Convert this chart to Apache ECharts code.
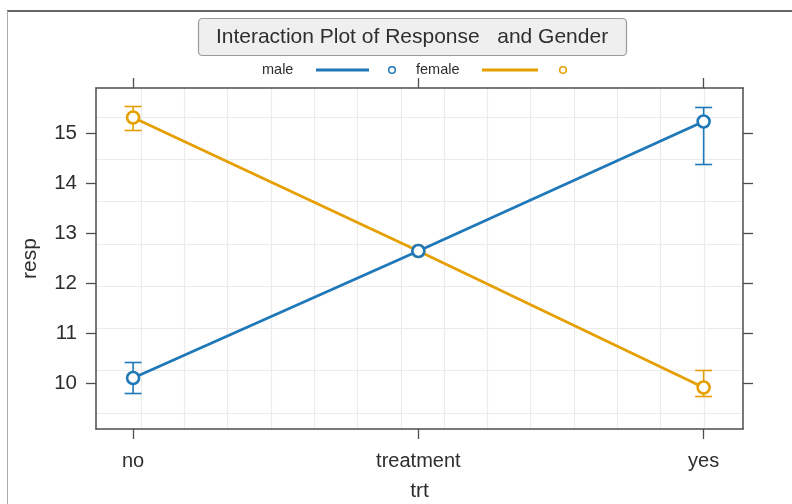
<!DOCTYPE html>
<html>
<head>
<meta charset="utf-8">
<script src="https://cdn.jsdelivr.net/npm/echarts@6/dist/echarts.min.js"></script>
<style>
html,body{margin:0;padding:0;background:#fff;}
#chart{width:792px;height:504px;}
</style>
</head>
<body>
<div id="chart"></div>
<script>
// ---- data ----
const categories = ['no', 'treatment', 'yes'];
const seriesNames = ['male', 'female'];
const maleMean = [10.10, 12.64, 15.23];
const maleLower = [9.79, null, 14.37];
const maleUpper = [10.41, null, 15.51];
const femaleMean = [15.31, 12.64, 9.91];
const femaleLower = [15.05, null, 9.73];
const femaleUpper = [15.53, null, 10.25];
const yTickValues = [10, 11, 12, 13, 14, 15];
// background reference-grid positions (panel grid, not data)
const vGridValues = [1, 2, 3, 4, 5, 6, 7, 8, 9, 10, 11, 12, 13, 14];
const hGridValues = [1, 2, 3, 4, 5, 6, 7, 8];
const titleText = 'Interaction Plot of Response   and Gender';
const xName = 'trt';
const yName = 'resp';

// ---- styling ----
const colors = ['#1f78b8', '#e69f00'];
const FONT = '"Liberation Sans", Arial, Helvetica, sans-serif';
const TXT = '#2e2e2e';
const AX = '#4d4d4d';
const catX = categories.map((c, i) => i + 1);

function errData(lo, hi) {
  const out = [];
  categories.forEach((c, i) => {
    if (lo[i] != null && hi[i] != null) out.push([catX[i], lo[i], hi[i]]);
  });
  return out;
}
function errSeries(name, lo, hi, color) {
  return {
    type: 'custom', name: name + ' err', xAxisIndex: 0, yAxisIndex: 0, z: 3,
    data: errData(lo, hi),
    encode: { x: 0, y: [1, 2] },
    renderItem: function (params, api) {
      const x = api.value(0);
      const a = api.coord([x, api.value(1)]);
      const b = api.coord([x, api.value(2)]);
      const hw = 8.5;
      const st = { stroke: color, lineWidth: 1.6, fill: null };
      return {
        type: 'group',
        children: [
          { type: 'line', shape: { x1: a[0], y1: a[1], x2: b[0], y2: b[1] }, style: st },
          { type: 'line', shape: { x1: a[0] - hw, y1: a[1], x2: a[0] + hw, y2: a[1] }, style: st },
          { type: 'line', shape: { x1: b[0] - hw, y1: b[1], x2: b[0] + hw, y2: b[1] }, style: st }
        ]
      };
    }
  };
}
function lineSeries(name, vals, color, z) {
  return {
    type: 'line', name: name, xAxisIndex: 0, yAxisIndex: 0, z: z,
    data: catX.map((x, i) => [x, vals[i]]),
    symbol: 'circle', symbolSize: 12,
    lineStyle: { color: color, width: 2.8 },
    itemStyle: { color: '#ffffff', borderColor: color, borderWidth: 2.6 },
    emphasis: { disabled: true }
  };
}

const axisLine = { show: true, onZero: false, lineStyle: { color: AX, width: 1.5 } };
const tickStyle = { color: AX, width: 1.3 };

const chart = echarts.init(document.getElementById('chart'), null, { renderer: 'canvas' });
chart.setOption({
  animation: false,
  backgroundColor: '#ffffff',
  grid: { left: 96, top: 88, width: 647, height: 341, show: false, containLabel: false, outerBoundsMode: 'none' },
  xAxis: [
    {
      type: 'value', position: 'bottom', min: 0.870, max: 3.138,
      axisLine: axisLine,
      axisTick: { show: true, inside: false, length: 10, lineStyle: tickStyle, customValues: catX },
      axisLabel: {
        show: true, customValues: catX, margin: 22,
        formatter: v => categories[Math.round(v) - 1] || '',
        color: TXT, fontSize: 20, fontFamily: FONT
      },
      splitLine: { show: false },
      name: xName, nameLocation: 'middle', nameGap: 52,
      nameTextStyle: { color: TXT, fontSize: 21, fontFamily: FONT }
    },
    {
      type: 'value', position: 'top', min: 0.870, max: 3.138,
      axisLine: axisLine,
      axisTick: { show: true, inside: false, length: 10, lineStyle: tickStyle, customValues: catX },
      axisLabel: { show: false },
      splitLine: { show: false }
    },
    {
      type: 'value', position: 'bottom', min: -0.0393, max: 14.903,
      axisLine: { show: false, onZero: false },
      axisTick: { show: false, customValues: vGridValues },
      axisLabel: { show: false },
      splitLine: { show: true, lineStyle: { color: '#ebebeb', width: 1.2 } }
    }
  ],
  yAxis: [
    {
      type: 'value', position: 'left', min: 9.08, max: 15.9,
      axisLine: axisLine,
      axisTick: { show: true, inside: false, length: 10, lineStyle: tickStyle, customValues: yTickValues },
      axisLabel: { show: true, customValues: yTickValues, margin: 19, color: TXT, fontSize: 20.5, fontFamily: FONT },
      splitLine: { show: false },
      name: yName, nameLocation: 'middle', nameGap: 55, nameRotate: 90,
      nameTextStyle: { color: TXT, fontSize: 21, fontFamily: FONT }
    },
    {
      type: 'value', position: 'right', min: 9.08, max: 15.9,
      axisLine: axisLine,
      axisTick: { show: true, inside: false, length: 10, lineStyle: tickStyle, customValues: yTickValues },
      axisLabel: { show: false },
      splitLine: { show: false }
    },
    {
      type: 'value', position: 'left', min: 0.6217, max: 8.685,
      axisLine: { show: false, onZero: false },
      axisTick: { show: false, customValues: hGridValues },
      axisLabel: { show: false },
      splitLine: { show: true, lineStyle: { color: '#ebebeb', width: 1.2 } }
    }
  ],
  series: [
    errSeries(seriesNames[1], femaleLower, femaleUpper, colors[1]),
    errSeries(seriesNames[0], maleLower, maleUpper, colors[0]),
    lineSeries(seriesNames[1], femaleMean, colors[1], 4),
    lineSeries(seriesNames[0], maleMean, colors[0], 5)
  ],
  graphic: [
    { type: 'line', shape: { x1: 7, y1: 11, x2: 792, y2: 11 }, style: { stroke: '#333', lineWidth: 1.5 }, silent: true },
    { type: 'line', shape: { x1: 7.5, y1: 11, x2: 7.5, y2: 504 }, style: { stroke: '#aaaaaa', lineWidth: 1 }, silent: true },
    { type: 'rect', shape: { x: 198.5, y: 18.5, width: 428, height: 37, r: 4 }, style: { fill: '#efefef', stroke: '#9a9a9a', lineWidth: 1.2 }, silent: true },
    { type: 'text', x: 412, y: 37, style: { text: titleText, align: 'center', verticalAlign: 'middle', fill: TXT, font: '21px ' + FONT }, silent: true },
    { type: 'text', x: 262, y: 70, style: { text: seriesNames[0], align: 'left', verticalAlign: 'middle', fill: TXT, font: '14.5px ' + FONT }, silent: true },
    { type: 'line', shape: { x1: 316, y1: 70, x2: 369, y2: 70 }, style: { stroke: colors[0], lineWidth: 2.8 }, silent: true },
    { type: 'circle', shape: { cx: 392, cy: 70, r: 3.3 }, style: { fill: null, stroke: colors[0], lineWidth: 1.5 }, silent: true },
    { type: 'text', x: 416, y: 70, style: { text: seriesNames[1], align: 'left', verticalAlign: 'middle', fill: TXT, font: '14.5px ' + FONT }, silent: true },
    { type: 'line', shape: { x1: 482, y1: 70, x2: 538, y2: 70 }, style: { stroke: colors[1], lineWidth: 2.8 }, silent: true },
    { type: 'circle', shape: { cx: 563, cy: 70, r: 3.3 }, style: { fill: null, stroke: colors[1], lineWidth: 1.5 }, silent: true }
  ]
});
</script>
</body>
</html>
